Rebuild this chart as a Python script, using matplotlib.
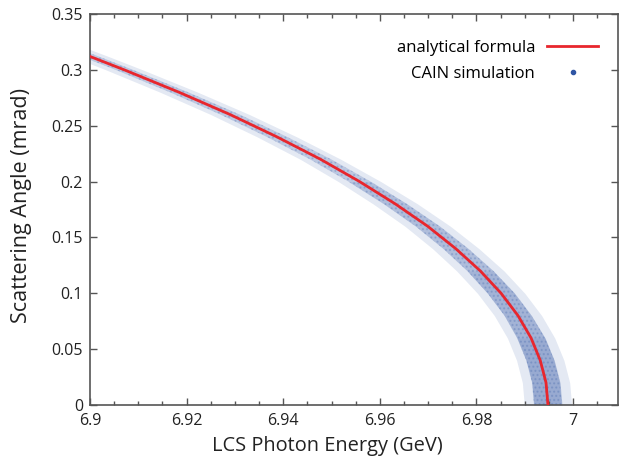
import matplotlib
matplotlib.use("Agg")
from matplotlib import pyplot as plt
from matplotlib.lines import Line2D
from matplotlib.ticker import MultipleLocator, FuncFormatter
import numpy as np

plt.rcParams["font.family"] = ["Open Sans", "DejaVu Sans"]

# analytical curve (angle in mrad, energy in GeV)
angle = [0.320, 0.312, 0.300, 0.280, 0.260, 0.240, 0.220, 0.200, 0.180,
         0.160, 0.140, 0.120, 0.100, 0.080, 0.060, 0.040, 0.020, 0.000]
energy = [6.8951, 6.9000, 6.9071, 6.9184, 6.9290, 6.9387, 6.9477, 6.9558,
          6.9632, 6.9699, 6.9757, 6.9808, 6.9851, 6.9886, 6.9913, 6.9932,
          6.9944, 6.9948]

# CAIN cloud: energy spread around the curve (dense core and sparse edge), GeV
spread_core = [0.0018, 0.0018, 0.0018, 0.0019, 0.0020, 0.0021, 0.0022, 0.0023,
               0.0024, 0.0025, 0.0026, 0.0027, 0.0028, 0.0028, 0.0029, 0.0029,
               0.0029, 0.0029]
spread_outer = [0.0038, 0.0038, 0.0038, 0.0039, 0.0040, 0.0041, 0.0042, 0.0044,
                0.0046, 0.0047, 0.0048, 0.0049, 0.0049, 0.0049, 0.0049, 0.0049,
                0.0049, 0.0049]

xticks = [6.9, 6.92, 6.94, 6.96, 6.98, 7.0]
yticks = [0, 0.05, 0.1, 0.15, 0.2, 0.25, 0.3, 0.35]

blue = "#2f55a4"
red = "#e8262d"
grey = "#555555"

fig = plt.figure(figsize=(6.19, 4.62), dpi=100)
ax = fig.add_axes([90 / 619, 57 / 462, 528 / 619, 391 / 462])

e = np.array(energy)
th = np.array(angle)
core = np.array(spread_core)
outer = np.array(spread_outer)

# sparse edge of the cloud, then the core, which gets denser towards small angles
ax.fill_betweenx(th, e - outer, e + outer, color=blue, alpha=0.13, lw=0)
ax.fill_betweenx(th, e - core, e + core, color=blue, alpha=0.22, lw=0,
                 hatch="....", edgecolor=blue)
for top in (0.20, 0.13, 0.07):
    m = th <= top
    ax.fill_betweenx(th[m], (e - core)[m], (e + core)[m], color=blue,
                     alpha=0.09, lw=0)
ax.plot(energy, angle, color=red, lw=2.0, zorder=3)

ax.set_xlim(6.9, 7.0093)
ax.set_ylim(0, 0.35)
ax.set_xticks(xticks)
ax.set_yticks(yticks)
ax.xaxis.set_minor_locator(MultipleLocator(0.005))
fmt = FuncFormatter(lambda v, p: "%g" % round(v, 3))
ax.xaxis.set_major_formatter(fmt)
ax.yaxis.set_major_formatter(fmt)

ax.tick_params(which="both", direction="in", top=True, right=True,
               color=grey, labelsize=11.5, labelcolor="#222222")
ax.tick_params(which="major", length=5, width=1)
ax.tick_params(which="minor", length=3, width=1)
ax.tick_params(axis="x", pad=6)
ax.tick_params(axis="y", pad=5)
for s in ax.spines.values():
    s.set_color(grey)
    s.set_linewidth(1.2)

ax.set_xlabel("LCS Photon Energy (GeV)", fontsize=14.4, color="#222222")
ax.set_ylabel("Scattering Angle (mrad)", fontsize=15.5, color="#222222")
ax.xaxis.set_label_coords(0.449, -0.079)
ax.yaxis.set_label_coords(-0.110, 0.509)

handles = [Line2D([], [], color=red, lw=2.0),
           Line2D([], [], color=blue, ls="none", marker="o", markersize=3)]
ax.legend(handles, ["analytical formula", "CAIN simulation"], loc="upper right",
          bbox_to_anchor=(0.975, 0.95), frameon=False, markerfirst=False,
          fontsize=12, handlelength=3.06, handletextpad=0.72, labelspacing=0.6,
          borderaxespad=0)

fig.savefig("out.png", dpi=100)
